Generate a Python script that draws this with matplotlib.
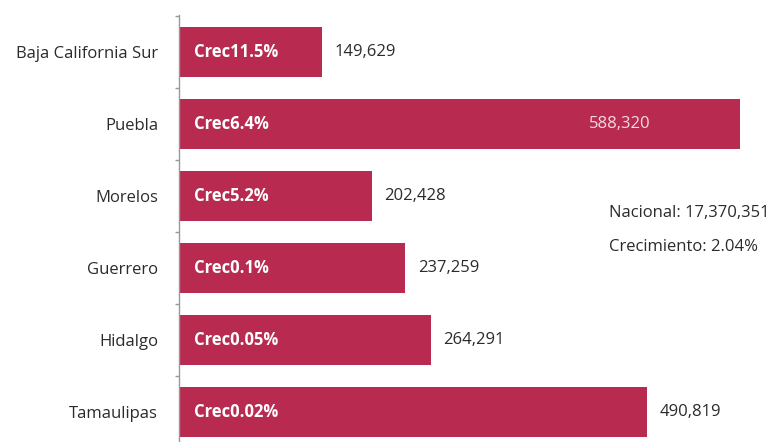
import matplotlib
matplotlib.use("Agg")
import matplotlib.pyplot as plt
import numpy as np

estados = ["Baja California Sur", "Puebla", "Morelos", "Guerrero", "Hidalgo", "Tamaulipas"]
valores = [149629, 588320, 202428, 237259, 264291, 490819]
crecimiento = ["11.5%", "6.4%", "5.2%", "0.1%", "0.05%", "0.02%"]
nacional = "17,370,351"
crec_nacional = "2.04%"

plt.rcParams['font.family'] = ['Open Sans', 'DejaVu Sans']

color_barra = "#B82A50"
color_texto = "#2b2b2b"

W, H = 769, 442
fig = plt.figure(figsize=(W / 100, H / 100), dpi=100)
ax = fig.add_axes([179 / W, 0, 590 / W, 1 - 15 / H])

y = np.arange(len(estados))
ax.barh(y, valores, height=0.69, color=color_barra)

# escala: 561 px para el valor de Puebla
px_por_unidad = 561 / 588320
ax.set_xlim(0, 590 / px_por_unidad)
ax.set_ylim(5.417, -0.514)

ax.set_yticks(y)
ax.set_yticklabels(estados, fontsize=12, color=color_texto)
ax.tick_params(axis="y", which="major", length=0, pad=15)
ax.set_yticks(np.arange(-0.5, 5.0, 1.0), minor=True)
ax.tick_params(axis="y", which="minor", length=3, color="#999999", width=1)
ax.set_xticks([])

for s in ["top", "right", "bottom"]:
    ax.spines[s].set_visible(False)
ax.spines["left"].set_color("#999999")
ax.spines["left"].set_linewidth(1)

for i, (v, c) in enumerate(zip(valores, crecimiento)):
    ax.annotate("Crec" + c, xy=(0, i), xytext=(11, 0), textcoords="offset points",
                va="center", ha="left", color="white", fontsize=12, fontweight="bold")
    if v == max(valores):
        ax.annotate(f"{v:,}", xy=(v, i), xytext=(-109, 0), textcoords="offset points",
                    va="center", ha="left", color="#f3dbe1", fontsize=12)
    else:
        ax.annotate(f"{v:,}", xy=(v, i), xytext=(9, 0), textcoords="offset points",
                    va="center", ha="left", color=color_texto, fontsize=12)

fig.text(609 / W, 1 - 213 / H, "Nacional: " + nacional, fontsize=12,
         color=color_texto, va="center", ha="left")
fig.text(609 / W, 1 - 247 / H, "Crecimiento: " + crec_nacional, fontsize=12,
         color=color_texto, va="center", ha="left")

fig.savefig("out.png", dpi=100)
